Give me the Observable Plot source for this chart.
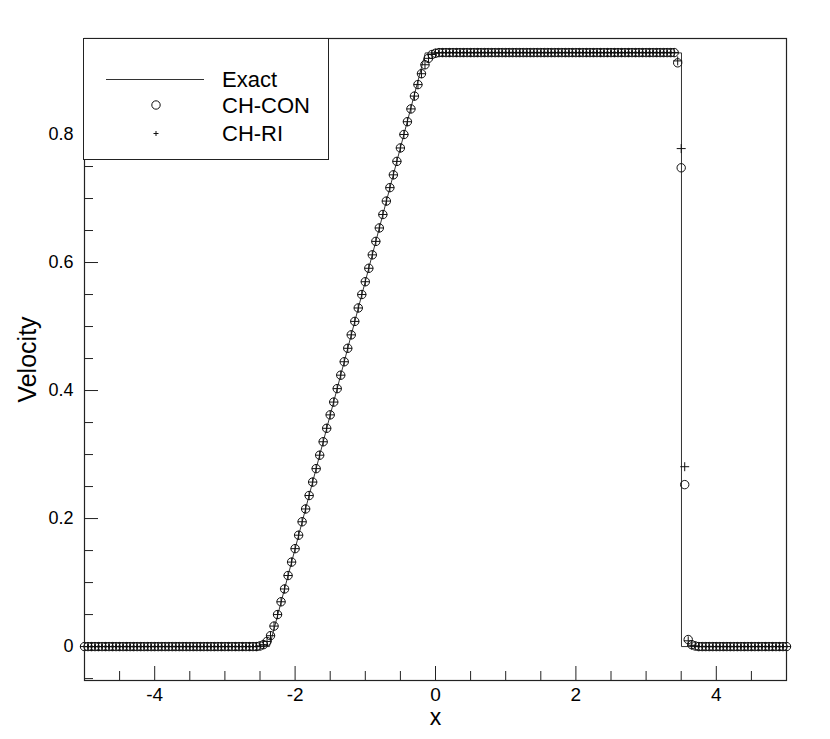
<!DOCTYPE html>
<html>
<head>
<meta charset="utf-8">
<script src="https://cdn.jsdelivr.net/npm/d3@7"></script>
<script src="https://cdn.jsdelivr.net/npm/@observablehq/plot@0.6"></script>
<style>
  html, body { margin: 0; padding: 0; background: white; }
  #wrap { position: relative; width: 830px; height: 739px; font-family: "Liberation Sans", Arial, sans-serif; }
  #legend { position: absolute; left: 83px; top: 38px; width: 246px; height: 122px; border: 1px solid #222; background: white; box-sizing: border-box; }
</style>
</head>
<body>
<div id="wrap"><div id="chart"></div><div id="legend"></div></div>
<script>
// Grid positions
const xs = [-5,-4.95,-4.9,-4.85,-4.8,-4.75,-4.7,-4.65,-4.6,-4.55,-4.5,-4.45,-4.4,-4.35,-4.3,-4.25,-4.2,-4.15,-4.1,-4.05,
-4,-3.95,-3.9,-3.85,-3.8,-3.75,-3.7,-3.65,-3.6,-3.55,-3.5,-3.45,-3.4,-3.35,-3.3,-3.25,-3.2,-3.15,-3.1,-3.05,
-3,-2.95,-2.9,-2.85,-2.8,-2.75,-2.7,-2.65,-2.6,-2.55,-2.5,-2.45,-2.4,-2.35,-2.3,-2.25,-2.2,-2.15,-2.1,-2.05,
-2,-1.95,-1.9,-1.85,-1.8,-1.75,-1.7,-1.65,-1.6,-1.55,-1.5,-1.45,-1.4,-1.35,-1.3,-1.25,-1.2,-1.15,-1.1,-1.05,
-1,-0.95,-0.9,-0.85,-0.8,-0.75,-0.7,-0.65,-0.6,-0.55,-0.5,-0.45,-0.4,-0.35,-0.3,-0.25,-0.2,-0.15,-0.1,-0.05,
0,0.05,0.1,0.15,0.2,0.25,0.3,0.35,0.4,0.45,0.5,0.55,0.6,0.65,0.7,0.75,0.8,0.85,0.9,0.95,
1,1.05,1.1,1.15,1.2,1.25,1.3,1.35,1.4,1.45,1.5,1.55,1.6,1.65,1.7,1.75,1.8,1.85,1.9,1.95,
2,2.05,2.1,2.15,2.2,2.25,2.3,2.35,2.4,2.45,2.5,2.55,2.6,2.65,2.7,2.75,2.8,2.85,2.9,2.95,
3,3.05,3.1,3.15,3.2,3.25,3.3,3.35,3.4,3.45,3.5,3.55,3.6,3.65,3.7,3.75,3.8,3.85,3.9,3.95,
4,4.05,4.1,4.15,4.2,4.25,4.3,4.35,4.4,4.45,4.5,4.55,4.6,4.65,4.7,4.75,4.8,4.85,4.9,4.95,5];

// CH-CON velocity values
const conY = [0,0,0,0,0,0,0,0,0,0,0,0,0,0,0,0,0,0,0,0,
0,0,0,0,0,0,0,0,0,0,0,0,0,0,0,0,0,0,0,0,
0,0,0,0,0,0,0,0,0,0,0.001,0.003,0.008,0.017,0.032,0.050,0.070,0.090,0.111,0.132,
0.153,0.174,0.195,0.215,0.236,0.257,0.278,0.299,0.320,0.341,0.362,0.382,0.403,0.424,0.445,0.466,0.487,0.508,0.529,0.550,
0.570,0.591,0.612,0.633,0.654,0.675,0.696,0.717,0.737,0.758,0.779,0.800,0.820,0.840,0.860,0.878,0.895,0.909,0.919,0.925,
0.927,0.928,0.928,0.928,0.928,0.928,0.928,0.928,0.928,0.928,0.928,0.928,0.928,0.928,0.928,0.928,0.928,0.928,0.928,0.928,
0.928,0.928,0.928,0.928,0.928,0.928,0.928,0.928,0.928,0.928,0.928,0.928,0.928,0.928,0.928,0.928,0.928,0.928,0.928,0.928,
0.928,0.928,0.928,0.928,0.928,0.928,0.928,0.928,0.928,0.928,0.928,0.928,0.928,0.928,0.928,0.928,0.928,0.928,0.928,0.928,
0.928,0.928,0.928,0.928,0.928,0.928,0.928,0.928,0.928,0.912,0.748,0.253,0.011,0.003,0.001,0,0,0,0,0,
0,0,0,0,0,0,0,0,0,0,0,0,0,0,0,0,0,0,0,0,0];

// CH-RI velocity values
const riY = [0,0,0,0,0,0,0,0,0,0,0,0,0,0,0,0,0,0,0,0,
0,0,0,0,0,0,0,0,0,0,0,0,0,0,0,0,0,0,0,0,
0,0,0,0,0,0,0,0,0,0,0.001,0.003,0.008,0.017,0.032,0.050,0.070,0.090,0.111,0.132,
0.153,0.174,0.195,0.215,0.236,0.257,0.278,0.299,0.320,0.341,0.362,0.382,0.403,0.424,0.445,0.466,0.487,0.508,0.529,0.550,
0.570,0.591,0.612,0.633,0.654,0.675,0.696,0.717,0.737,0.758,0.779,0.800,0.820,0.840,0.860,0.878,0.895,0.909,0.919,0.925,
0.927,0.928,0.928,0.928,0.928,0.928,0.928,0.928,0.928,0.928,0.928,0.928,0.928,0.928,0.928,0.928,0.928,0.928,0.928,0.928,
0.928,0.928,0.928,0.928,0.928,0.928,0.928,0.928,0.928,0.928,0.928,0.928,0.928,0.928,0.928,0.928,0.928,0.928,0.928,0.928,
0.928,0.928,0.928,0.928,0.928,0.928,0.928,0.928,0.928,0.928,0.928,0.928,0.928,0.928,0.928,0.928,0.928,0.928,0.928,0.928,
0.928,0.928,0.928,0.928,0.928,0.928,0.928,0.928,0.928,0.915,0.778,0.281,0.009,0.002,0.001,0,0,0,0,0,
0,0,0,0,0,0,0,0,0,0,0,0,0,0,0,0,0,0,0,0,0];

// Exact solution vertices
const exactX = [-5, -2.366, -0.145, 3.504, 3.504, 5];
const exactY = [0, 0, 0.9275, 0.9275, 0, 0];

// Ticks
const xMajor = [-4, -2, 0, 2, 4];
const xMinor = [-4.5,-3.5,-3,-2.5,-1.5,-1,-0.5,0.5,1,1.5,2.5,3,3.5,4.5];
const yMajor = [0, 0.2, 0.4, 0.6, 0.8];
const yMinor = [-0.05,0.05,0.1,0.15,0.25,0.3,0.35,0.45,0.5,0.55,0.65,0.7,0.75,0.85,0.9];

const pts = xs.map((x, i) => ({x, con: conY[i], ri: riY[i]}));
const exact = exactX.map((x, i) => ({x, y: exactY[i]}));

const ink = "#222";
const chart = Plot.plot({
  width: 830,
  height: 739,
  marginTop: 38,
  marginBottom: 59,
  marginLeft: 84,
  marginRight: 44,
  x: {domain: [-5, 5]},
  y: {domain: [-0.053, 0.95]},
  style: {fontFamily: "'Liberation Sans', Arial, sans-serif", fontSize: "18px", color: "black", background: "white"},
  marks: [
    Plot.axisX(xMinor, {tickSize: -9, text: null, label: null, stroke: ink}),
    Plot.axisX(xMajor, {tickSize: -14, text: null, label: null, stroke: ink}),
    Plot.axisX(xMajor, {tickSize: 0, tickPadding: 7, tickFormat: d => String(d), label: null, fontSize: 19}),
    Plot.axisY(yMinor, {tickSize: -9, text: null, label: null, stroke: ink}),
    Plot.axisY(yMajor, {tickSize: -14, text: null, label: null, stroke: ink}),
    Plot.axisY(yMajor, {tickSize: 0, tickPadding: 11, tickFormat: d => String(d), label: null, fontSize: 18}),
    Plot.text(["x"], {frameAnchor: "bottom", textAnchor: "middle", lineAnchor: "middle", dy: 37, fontSize: 23, fill: "black"}),
    Plot.text(["Velocity"], {frameAnchor: "left", textAnchor: "middle", lineAnchor: "middle", dx: -57, rotate: -90, fontSize: 25, fill: "black"}),
    Plot.line(exact, {x: "x", y: "y", stroke: "#333", strokeWidth: 1}),
    Plot.dot(pts, {x: "x", y: "con", r: 4.2, stroke: "#111", strokeWidth: 1, fill: "none"}),
    Plot.dot(pts, {x: "x", y: "ri", r: 3, symbol: "plus", stroke: "#111", strokeWidth: 1}),
    Plot.frame({stroke: ink, strokeWidth: 1.2})
  ]
});
document.getElementById("chart").appendChild(chart);

// Legend
const lg = d3.select("#legend").append("svg").attr("width", 246).attr("height", 122)
  .style("display", "block").style("font-family", "'Liberation Sans', Arial, sans-serif");
lg.append("line").attr("x1", 22).attr("x2", 120).attr("y1", 40.5).attr("y2", 40.5).attr("stroke", "#333");
lg.append("circle").attr("cx", 72).attr("cy", 66).attr("r", 4.2).attr("fill", "none").attr("stroke", "#111");
lg.append("path").attr("d", "M69.5,94.5h5M72,92v5").attr("stroke", "#111");
const names = ["Exact", "CH-CON", "CH-RI"];
const ly = [40, 66, 94];
names.forEach((n, i) => {
  lg.append("text").attr("x", 138).attr("y", ly[i]).attr("dy", "0.35em")
    .attr("font-size", 22).attr("fill", "black").text(n);
});
</script>
</body>
</html>
